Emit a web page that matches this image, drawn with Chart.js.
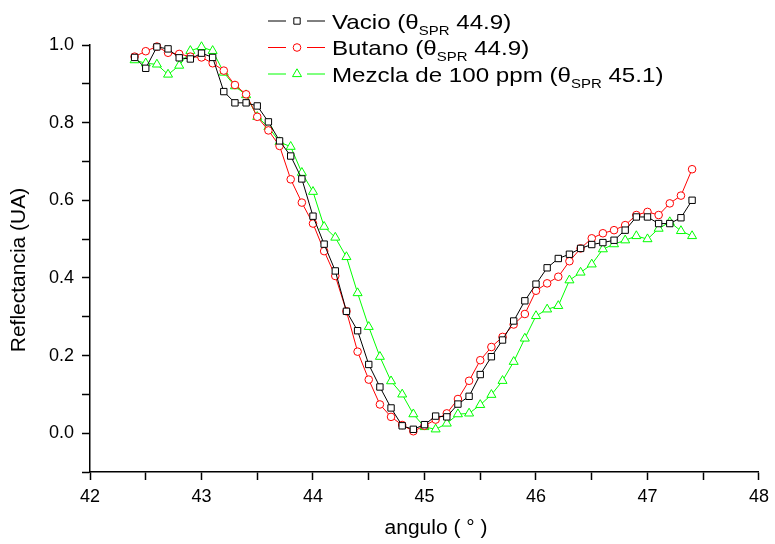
<!DOCTYPE html>
<html><head><meta charset="utf-8">
<script src="https://cdn.jsdelivr.net/npm/chart.js@4/dist/chart.umd.min.js"></script>
<style>html,body{margin:0;padding:0;background:#fff}</style>
</head><body>
<canvas id="c" width="775" height="544"></canvas>
<script>
const angles = [42.4,42.5,42.6,42.7,42.8,42.9,43.0,43.1,43.2,43.3,43.4,43.5,43.6,43.7,43.8,43.9,44.0,44.1,44.2,44.3,44.4,44.5,44.6,44.7,44.8,44.9,45.0,45.1,45.2,45.3,45.4,45.5,45.6,45.7,45.8,45.9,46.0,46.1,46.2,46.3,46.4,46.5,46.6,46.7,46.8,46.9,47.0,47.1,47.2,47.3,47.4];
const vacio = [0.968,0.940,0.995,0.990,0.967,0.964,0.979,0.968,0.880,0.851,0.851,0.843,0.802,0.753,0.714,0.655,0.559,0.487,0.418,0.314,0.264,0.177,0.119,0.065,0.019,0.010,0.022,0.044,0.042,0.075,0.095,0.151,0.197,0.240,0.289,0.341,0.384,0.426,0.450,0.461,0.476,0.486,0.491,0.497,0.523,0.557,0.557,0.540,0.540,0.555,0.600];
const butano = [0.970,0.984,0.996,0.980,0.977,0.970,0.968,0.953,0.934,0.897,0.873,0.815,0.780,0.740,0.654,0.594,0.540,0.469,0.405,0.314,0.210,0.138,0.074,0.042,0.021,0.005,0.019,0.035,0.051,0.088,0.135,0.188,0.222,0.248,0.280,0.307,0.367,0.386,0.403,0.443,0.476,0.502,0.515,0.523,0.536,0.562,0.570,0.562,0.592,0.612,0.680];
const mezcla = [0.961,0.953,0.950,0.924,0.947,0.985,0.995,0.985,0.929,0.894,0.871,0.815,0.789,0.750,0.738,0.671,0.622,0.532,0.504,0.454,0.361,0.274,0.197,0.134,0.100,0.049,0.016,0.010,0.025,0.049,0.051,0.073,0.099,0.135,0.184,0.244,0.302,0.319,0.328,0.394,0.414,0.435,0.474,0.487,0.497,0.508,0.500,0.527,0.544,0.521,0.508];
const seriesNames = ["Vacio (θ", "Butano (θ", "Mezcla de 100 ppm (θ"];
const sprValues = ["44.9", "44.9", "45.1"];
const xTitle = "angulo ( ° )";
const yTitle = "Reflectancia (UA)";

const F = "'Liberation Sans', Arial, Helvetica, sans-serif";
const colors = ['#000000', '#ff0000', '#00ff00'];
const styles = ['rect', 'circle', 'triangle'];
const radii = [4.5, 3.8, 5.2];

function pts(vals){ return vals.map((v,i)=>({x: angles[i], y: v})); }

function drawMarker(ctx, style, x, y, r, color){
  ctx.beginPath();
  if (style === 'rect') { const s = r*Math.SQRT1_2; ctx.rect(x-s, y-s, 2*s, 2*s); }
  else if (style === 'circle') { ctx.arc(x, y, r, 0, Math.PI*2); }
  else { const a = -Math.PI/2; for (let k=0;k<3;k++){ const t=a+k*2*Math.PI/3; const px=x+Math.cos(t)*r, py=y+Math.sin(t)*r; if(k===0)ctx.moveTo(px,py); else ctx.lineTo(px,py);} ctx.closePath(); }
  ctx.fillStyle = '#fff'; ctx.fill();
  ctx.strokeStyle = color; ctx.lineWidth = 1; ctx.stroke();
}

const legendPlugin = {
  id: 'customLegend',
  afterDraw(chart){
    const ctx = chart.ctx;
    ctx.save();
    const rowY = [21, 47.5, 74];
    seriesNames.forEach((name, i)=>{
      const y = rowY[i];
      ctx.strokeStyle = colors[i]; ctx.lineWidth = 1;
      ctx.beginPath(); ctx.moveTo(268, y); ctx.lineTo(286, y); ctx.moveTo(307, y); ctx.lineTo(325, y); ctx.stroke();
      drawMarker(ctx, styles[i], 297, y, radii[i], colors[i]);
      ctx.save();
      ctx.translate(332, y + 7.5);
      ctx.scale(1.15, 1);
      ctx.fillStyle = '#000'; ctx.textBaseline = 'alphabetic'; ctx.textAlign = 'left';
      ctx.font = "21px " + F;
      let x = 0;
      ctx.fillText(name, x, 0); x += ctx.measureText(name).width;
      ctx.font = "13px " + F;
      ctx.fillText("SPR", x, 6); x += ctx.measureText("SPR").width;
      ctx.font = "21px " + F;
      ctx.fillText(" " + sprValues[i] + ")", x, 0);
      ctx.restore();
    });
    // axis titles
    ctx.fillStyle = '#000'; ctx.textAlign = 'center'; ctx.textBaseline = 'middle';
    ctx.save();
    ctx.translate(436, 528);
    ctx.scale(1.05, 1);
    ctx.font = "20px " + F;
    ctx.fillText(xTitle, 0, 0);
    ctx.restore();
    ctx.save();
    ctx.translate(19, 270);
    ctx.rotate(-Math.PI/2);
    ctx.font = "21px " + F;
    ctx.fillText(yTitle, 0, 0);
    ctx.restore();
    ctx.restore();
  }
};

const ds = [vacio, butano, mezcla].map((vals, i)=>({
  label: seriesNames[i] + "SPR " + sprValues[i] + ")",
  data: pts(vals),
  borderColor: colors[i],
  borderWidth: 1,
  pointStyle: styles[i],
  pointRadius: radii[i],
  pointBorderColor: colors[i],
  pointBackgroundColor: '#fff',
  pointBorderWidth: 1,
  tension: 0,
  clip: false,
  fill: false
}));

new Chart(document.getElementById('c'), {
  type: 'line',
  data: { datasets: ds },
  options: {
    responsive: false,
    animation: false,
    devicePixelRatio: 1,
    layout: { padding: { left: 0, right: 12, top: 45, bottom: 0 } },
    plugins: { legend: { display: false }, tooltip: { enabled: false } },
    scales: {
      x: {
        type: 'linear', min: 42, max: 48,
        ticks: { stepSize: 0.5, autoSkip: false, maxRotation: 0,
          callback: (v)=> Number.isInteger(Math.round(v*10)/10) ? String(v) : '',
          color: '#000', font: { family: F, size: 18 }, padding: 6 },
        grid: { display: true, drawOnChartArea: false, drawTicks: true, tickLength: 8, tickColor: '#000', tickWidth: 1.5 },
        border: { display: true, color: '#000', width: 1.5 },
        title: { display: false },
        afterFit: (s)=>{ s.height = 72; }
      },
      y: {
        type: 'linear', min: -0.1, max: 1.0,
        ticks: { stepSize: 0.1, autoSkip: false,
          callback: (v)=>{ const k = Math.round(v*10); return (k >= 0 && k % 2 === 0) ? (k/10).toFixed(1) : ''; },
          color: '#000', font: { family: F, size: 18 }, padding: 8 },
        grid: { display: true, drawOnChartArea: false, drawTicks: true, tickLength: 8, tickColor: '#000', tickWidth: 1.5 },
        border: { display: true, color: '#000', width: 1.5 },
        title: { display: false },
        afterFit: (s)=>{ s.width = 90; }
      }
    }
  },
  plugins: [legendPlugin]
});
</script>
</body></html>
